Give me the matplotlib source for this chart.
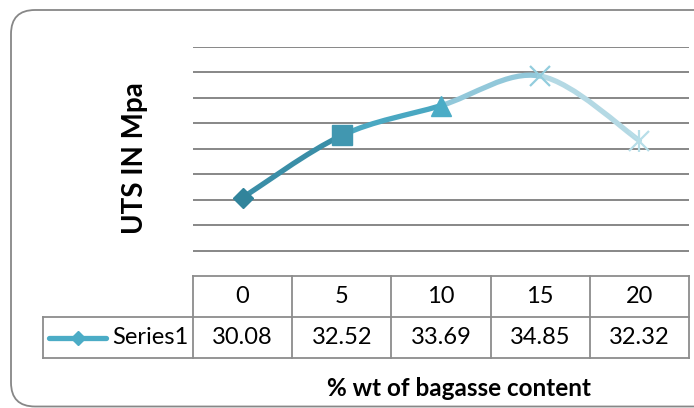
import matplotlib.pyplot as plt
from matplotlib.patches import FancyBboxPatch, PathPatch
from matplotlib.path import Path
from matplotlib.transforms import IdentityTransform, blended_transform_factory

categories = ["0", "5", "10", "15", "20"]
uts = [30.08, 32.52, 33.69, 34.85, 32.32]
series_name = "Series1"
marker_colors = ["#31849B", "#4197B0", "#4BACC6", "#93CDDD", "#B7DEE8"]
seg_colors = ["#3A8EA7", "#4AA8C2", "#92C8DA", "#B4D9E4"]

plt.rcParams["font.family"] = ["Lato", "DejaVu Sans"]

W, H = 694, 408
fig = plt.figure(figsize=(W / 100, H / 100), dpi=100)

# rounded chart frame (pixel coords), kept behind the axes
frame = FancyBboxPatch((11, 1.5), 720, 396.5, boxstyle="round,pad=0,rounding_size=24",
                       transform=IdentityTransform(), facecolor="white",
                       edgecolor="#878787", linewidth=1.3, zorder=-10)
fig.patches.append(frame)

left, right, top, bottom = 193, 689, 46.7, 276.2
ax = fig.add_axes([left / W, 1 - bottom / H, (right - left) / W, (bottom - top) / H])
ax.set_facecolor("none")
ax.set_xlim(-0.5, len(categories) - 0.5)
ax.set_ylim(27, 36)
ax.set_yticks(range(28, 37))
ax.yaxis.grid(True, color="#878787", linewidth=1.4)
ax.tick_params(left=False, bottom=False, labelleft=False, labelbottom=False)
for s in ax.spines.values():
    s.set_visible(False)

# smooth line, one bezier piece per segment (Excel style)
xs = list(range(len(uts)))
n = len(uts)
for i in range(n - 1):
    p0 = (xs[max(i - 1, 0)], uts[max(i - 1, 0)])
    p1 = (xs[i], uts[i])
    p2 = (xs[i + 1], uts[i + 1])
    p3 = (xs[min(i + 2, n - 1)], uts[min(i + 2, n - 1)])
    c1 = (p1[0] + (p2[0] - p0[0]) / 6, p1[1] + (p2[1] - p0[1]) / 6)
    c2 = (p2[0] - (p3[0] - p1[0]) / 6, p2[1] - (p3[1] - p1[1]) / 6)
    path = Path([p1, c1, c2, p2], [Path.MOVETO, Path.CURVE4, Path.CURVE4, Path.CURVE4])
    ax.add_patch(PathPatch(path, facecolor="none", edgecolor=seg_colors[i],
                           linewidth=3.8, capstyle="round", zorder=2))

ax.plot(xs[0], uts[0], "D", color=marker_colors[0], markersize=10, zorder=3, clip_on=False)
ax.plot(xs[1], uts[1], "s", color=marker_colors[1], markersize=14.5, zorder=3, clip_on=False)
ax.plot(xs[2], uts[2], "^", color=marker_colors[2], markersize=14, zorder=3, clip_on=False)
ax.plot(xs[3], uts[3], "x", color=marker_colors[3], markersize=14, mew=1.6, zorder=3, clip_on=False)
ax.plot(xs[4], uts[4], "x", color=marker_colors[4], markersize=14, mew=1.6, zorder=3, clip_on=False)
ax.plot(xs[4], uts[4], "|", color=marker_colors[4], markersize=16, mew=1.6, zorder=3, clip_on=False)

# data table below the plot
tr = blended_transform_factory(ax.transData, ax.transAxes)
ph = bottom - top
r1 = -41 / ph
r2 = -82 / ph
lc = "#8C8C8C"
kw = dict(transform=tr, color=lc, linewidth=1.3, clip_on=False)
label_left = -0.5 - (left - 43) / ((right - left) / len(categories))
ax.plot([-0.5, n - 0.5], [0, 0], **kw)
ax.plot([label_left, n - 0.5], [r1, r1], **kw)
ax.plot([label_left, n - 0.5], [r2, r2], **kw)
ax.plot([label_left, label_left], [r1, r2], **kw)
for k in range(n + 1):
    ax.plot([k - 0.5, k - 0.5], [0, r2], **kw)

for k in range(n):
    ax.text(k, r1 / 2, categories[k], transform=tr, ha="center", va="center", fontsize=17)
    ax.text(k, (r1 + r2) / 2, f"{uts[k]:.2f}", transform=tr, ha="center", va="center", fontsize=17)

ax.text(-0.55, (r1 + r2) / 2, series_name, transform=tr, ha="right", va="center", fontsize=17)
kx0 = label_left + 0.06
kx1 = label_left + 0.64
ax.plot([kx0, kx1], [(r1 + r2) / 2] * 2, transform=tr, color="#4BACC6", linewidth=3.8,
        solid_capstyle="round", clip_on=False)
ax.plot([(kx0 + kx1) / 2], [(r1 + r2) / 2], "D", transform=tr, color="#4BACC6",
        markersize=7, clip_on=False)

fig.text(135 / W, 1 - 158 / H, "UTS IN Mpa", rotation=90, ha="center", va="center",
         fontsize=20, fontweight="bold")
fig.text(459 / W, 1 - 389 / H, "% wt of bagasse content", ha="center", va="center",
         fontsize=17.5, fontweight="bold")

fig.savefig("out.png", dpi=100)
